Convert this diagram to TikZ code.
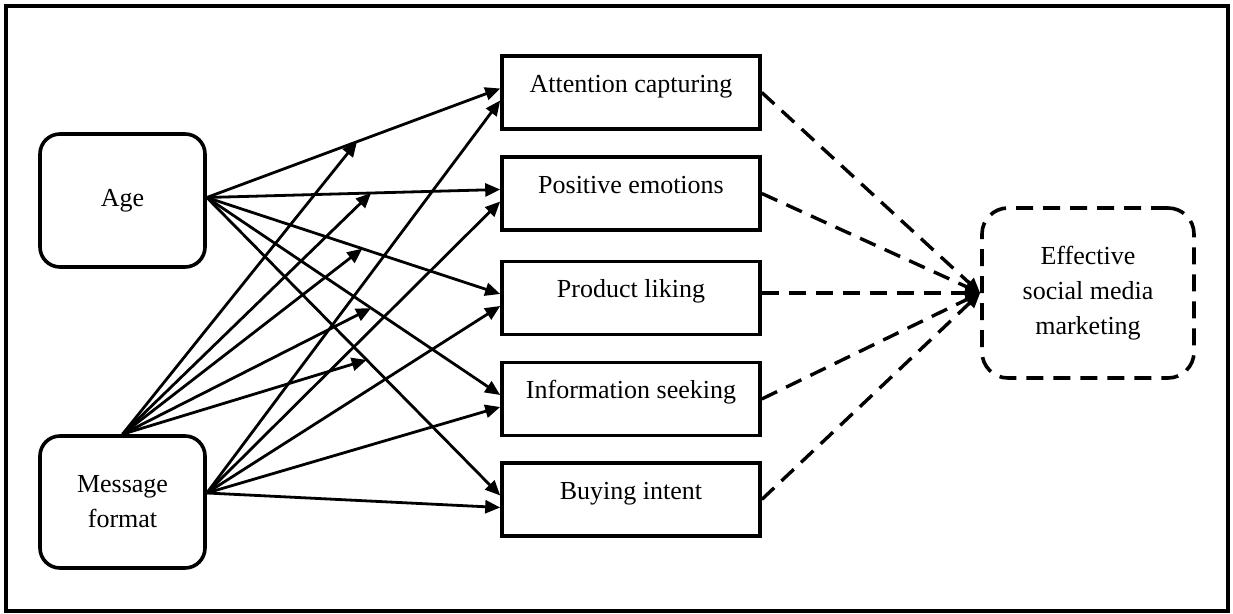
\documentclass[tikz,border=0pt]{standalone}
\usepackage{fontspec}
\setmainfont{Liberation Serif}
\usetikzlibrary{arrows.meta,calc}
\begin{document}
\begin{tikzpicture}[x=0.5pt,y=-0.5pt,
  font=\fontsize{13}{17.5}\selectfont,
  rbox/.style={draw,line width=1.8pt,rounded corners=10pt,minimum width=82.5pt,minimum height=66.5pt,align=center,inner sep=0pt},
  mbox/.style={draw,line width=1.8pt,minimum width=129pt,minimum height=36.5pt,text height=9pt,text depth=9pt,inner sep=0pt},
  arr/.style={line width=1.4pt,-{Triangle[length=7.5pt,width=6.5pt]}},
  darr/.style={line width=1.7pt,dash pattern=on 8.5pt off 5pt,-{Triangle[length=7.5pt,width=6.5pt]}},
]
\useasboundingbox (0,0) rectangle (1233,614);
\draw[line width=1.6pt] (6,6) rectangle (1228,611);

\node[rbox] (age) at (122.5,200.5) {Age};
\node[rbox,minimum height=66pt] (msg) at (122.5,502) {Message\\format};
\node[mbox] (att) at (631,92.5) {Attention capturing};
\node[mbox] (pos) at (631,193.5) {Positive emotions};
\node[mbox] (prod) at (631,298) {Product liking};
\node[mbox] (info) at (631,399) {Information seeking};
\node[mbox] (buy) at (631,499.5) {Buying intent};
\node[rbox,dash pattern=on 8.5pt off 5pt,rounded corners=13pt,minimum width=106pt,minimum height=85pt] (eff) at (1088,293) {Effective\\social media\\marketing};

\coordinate (ageout) at ($(age.east)+(0,-3)$);
\coordinate (msgout) at ($(msg.east)+(0,-9)$);
\foreach \b in {att,pos,prod,info,buy}{
  \coordinate (\b A) at ($(\b.west)+(0,-4)$);
  \coordinate (\b M) at ($(\b.west)+(0,8)$);
}
% Age -> mediators
\draw[arr] (ageout) -- (attA);
\draw[arr] (ageout) -- (posA);
\draw[arr] (ageout) -- (prodA);
\draw[arr] (ageout) -- (infoA);
\draw[arr] (ageout) -- (buyA);
% Message format -> mediators
\draw[arr] (msgout) -- (attM);
\draw[arr] (msgout) -- (posM);
\draw[arr] (msgout) -- (prodM);
\draw[arr] (msgout) -- (infoM);
\draw[arr] (msgout) -- (buyM);
% moderation points on Age arrows
\path (ageout) -- (attA) coordinate[pos=0.512] (m1);
\path (ageout) -- (posA) coordinate[pos=0.56] (m2);
\path (ageout) -- (prodA) coordinate[pos=0.53] (m3);
\path (ageout) -- (infoA) coordinate[pos=0.56] (m4);
\path (ageout) -- (buyA) coordinate[pos=0.545] (m5);
\foreach \m in {m1,m2,m3,m4,m5}{
  \draw[arr] (msg.north) -- (\m);
}
% mediators -> outcome
\draw[darr] (att.east) -- (eff.west);
\draw[darr] (pos.east) -- (eff.west);
\draw[darr] ($(prod.east)+(0,-5)$) -- (eff.west);
\draw[darr] (info.east) -- (eff.west);
\draw[darr] (buy.east) -- (eff.west);
\end{tikzpicture}
\end{document}
